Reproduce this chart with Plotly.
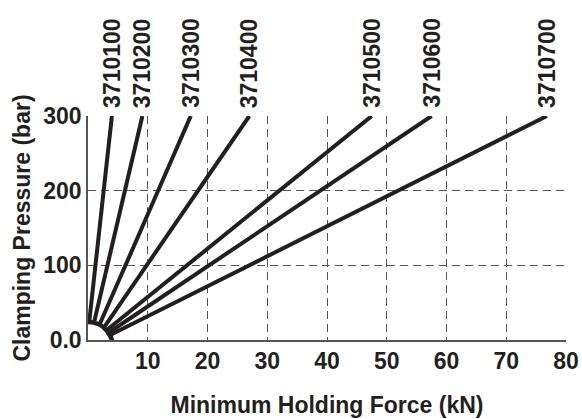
import plotly.graph_objects as go

# ---- data ----
models = ["3710100", "3710200", "3710300", "3710400", "3710500", "3710600", "3710700"]
start_force = [0.2, 1.0, 1.9, 2.6, 3.1, 3.5, 3.8]        # kN
start_pressure = [24, 23, 20, 16, 13, 10, 7]             # bar
end_force = [4.0, 9.1, 17.2, 27.0, 47.5, 57.5, 76.8]     # kN at 300 bar
end_pressure = [300, 300, 300, 300, 300, 300, 300]       # bar

arc_force = [0.0, 1.1, 2.1, 2.95, 3.6, 4.0, 4.15]
arc_pressure = [24, 23, 20, 14, 7, 0, -6]

x_ticks = [10, 20, 30, 40, 50, 60, 70, 80]
y_ticks = [0, 100, 200, 300]
y_ticktext = ["0.0", "100", "200", "300"]

INK = "#231f20"
FONT = "Liberation Sans, Arial, sans-serif"

fig = go.Figure()

fig.add_trace(go.Scatter(x=arc_force, y=arc_pressure, mode="lines",
                         line=dict(color=INK, width=4.5, shape="spline"),
                         showlegend=False, hoverinfo="skip"))

for m, x0, y0, x1, y1 in zip(models, start_force, start_pressure, end_force, end_pressure):
    fig.add_trace(go.Scatter(x=[x0, x1], y=[y0, y1], mode="lines",
                             line=dict(color=INK, width=4),
                             name=m, showlegend=False))
    fig.add_annotation(x=x1, y=1, xref="x", yref="paper", text="<b>%s</b>" % m,
                       textangle=-90, showarrow=False, xanchor="center",
                       yanchor="bottom", yshift=6,
                       font=dict(family=FONT, size=23, color=INK))

grid = dict(showgrid=True, gridcolor="#555555", gridwidth=1, griddash="8px,5px")

fig.update_xaxes(range=[0, 80], tickvals=x_ticks,
                 ticktext=["<b>%d</b>" % v for v in x_ticks], ticks="", ticklen=0,
                 showline=True, linecolor="#555555", linewidth=1.5, zeroline=False,
                 automargin=False,
                 tickfont=dict(family=FONT, size=23, color=INK),
                 title=dict(text="<b>Minimum Holding Force (kN)</b>",
                            font=dict(family=FONT, size=23, color=INK), standoff=24),
                 **grid)
fig.update_yaxes(range=[0, 300], tickvals=y_ticks,
                 ticktext=["<b>%s</b>" % t for t in y_ticktext], ticks="", ticklen=0,
                 showline=True, linecolor="#555555", linewidth=1.5, zeroline=False,
                 automargin=False,
                 tickfont=dict(family=FONT, size=23, color=INK),
                 title=dict(text="<b>Clamping Pressure (bar)</b>",
                            font=dict(family=FONT, size=23, color=INK), standoff=6),
                 **grid)

fig.update_layout(width=582, height=419,
                  margin=dict(l=88, r=16, t=116, b=79),
                  paper_bgcolor="white", plot_bgcolor="white",
                  font=dict(family=FONT, color=INK))

# remove the default page margin so the figure sits at the window's corner
fig.write_html("out.html",
               config={"displayModeBar": False},
               post_script="document.body.style.margin='0';"
                           "document.documentElement.style.overflow='hidden';")
